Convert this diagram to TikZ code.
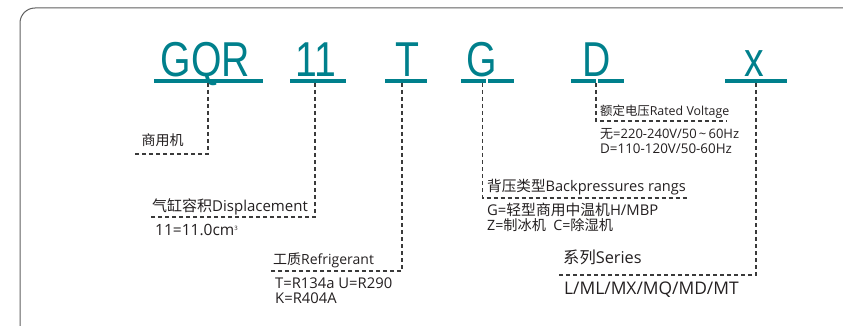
\documentclass[tikz,border=0pt]{standalone}
\usepackage{fontspec}
\setmainfont{Open Sans}
\newfontfamily\cjk{Noto Sans CJK SC}
\newfontfamily\codefont{Liberation Sans}
\definecolor{teal0}{HTML}{00808C}
\definecolor{ink}{HTML}{231F20}
\definecolor{leadc}{HTML}{3A3A3A}
\newcommand\fs[1]{\fontsize{#1}{#1}\selectfont}
\begin{document}
\begin{tikzpicture}[x=1pt,y=-1pt,
 code/.style={anchor=base,inner sep=0pt,text=teal0,font=\codefont\fontsize{49}{49}\selectfont},
 uline/.style={draw=teal0,line width=4pt},
 leader/.style={draw=leadc,line width=1.1pt,dash pattern=on 4pt off 3pt},
 lbl/.style={anchor=base west,inner sep=0pt,text=ink,font=\fs{14}},
 frame/.style={draw=gray!75!black,line width=1pt,rounded corners=15pt}]
\useasboundingbox (0,0) rectangle (843,326);
\begin{scope}
\clip (0,0) rectangle (843,326);
\draw[frame] (20,8) rectangle (870,350);
\end{scope}
% code letters
\node[code] (cGQR) at (205.3,77) {\scalebox{0.8}[1]{GQR}};
\node[code] (c11) at (315.8,77) {\scalebox{0.8}[1]{11}};
\node[code] (cT) at (407.5,77) {\scalebox{0.8}[1]{T}};
\node[code] (cG) at (482.2,77) {\scalebox{0.8}[1]{G}};
\node[code] (cD) at (596.7,77) {\scalebox{0.8}[1]{D}};
\node[code] (cx) at (754.5,77) {\scalebox{0.8}[1]{x}};
% underlines
\draw[uline] (154,81) -- (263,81);
\draw[uline] (290,81) -- (346,81);
\draw[uline] (385,81) -- (427,81);
\draw[uline] (461,81) -- (486,81);
\draw[uline] (488,81) -- (514,81);
\draw[uline] (571,81) -- (596,81);
\draw[uline] (598,81) -- (624,81);
\draw[uline] (725,81) -- (787,81);
% labels
\node[lbl] (lA) at (141.5,146) {\cjk 商用机};
\node[lbl,font=\fs{15}] (lB) at (152,211) {{\cjk 气缸容积}Displacement};
\node[lbl,font=\fs{15.5}] (lB2) at (155,235) {11=11.0cm\raisebox{5pt}{\fs{6}3}};
\node[lbl] (lC) at (273,264) {{\cjk 工质}Refrigerant};
\node[lbl,font=\fs{14.8}] (lC2) at (275,288) {T=R134a U=R290};
\node[lbl,font=\fs{14.8}] (lC3) at (275,303.5) {K=R404A};
\node[lbl,font=\fs{14.6}] (lD) at (487,191) {{\cjk 背压类型}Backpressures rangs};
\node[lbl,font=\fs{14.8}] (lD2) at (487,215) {G={\cjk 轻型商用中温机}H/MBP};
\node[lbl,font=\fs{14.2}] (lD3) at (487,230) {Z={\cjk 制冰机}\ \ C={\cjk 除湿机}};
\node[lbl,font=\fs{12.4}] (lE) at (600,116) {{\cjk 额定电压}Rated Voltage};
\node[lbl,font=\fs{13}] (lE2) at (600,138.5) {{\cjk 无}=220-240V/50\,\textasciitilde\,60Hz};
\node[lbl,font=\fs{13.4}] (lE3) at (600,153.5) {D=110-120V/50-60Hz};
\node[lbl,font=\fs{16.3}] (lF) at (563,263.5) {{\cjk 系列}Series};
\node[lbl,font=\fs{17.4}] (lF2) at (564,294.5) {L/ML/MX/MQ/MD/MT};
% leader lines
\coordinate (uGQR) at (208,83); \coordinate (eGQR) at (133,154);
\coordinate (u11) at (315,83); \coordinate (e11) at (151,217);
\coordinate (uT) at (402,83); \coordinate (eT) at (271,271);
\coordinate (uG) at (482.5,83); \coordinate (eG) at (688,198);
\coordinate (uD) at (596,83); \coordinate (eD) at (727,121);
\coordinate (ux) at (756,83); \coordinate (ex) at (559,275);
\draw[leader] (uGQR) |- (eGQR);
\draw[leader] (u11) |- (e11);
\draw[leader] (uT) |- (eT);
\draw[leader] (uG) |- (eG);
\draw[leader] (uD) |- (eD);
\draw[leader] (ux) |- (ex);
\end{tikzpicture}
\end{document}
